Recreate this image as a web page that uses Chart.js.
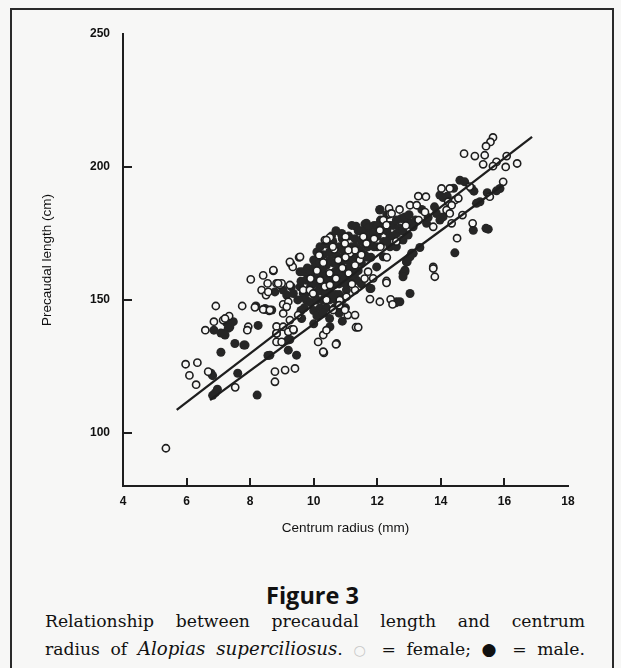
<!DOCTYPE html>
<html>
<head>
<meta charset="utf-8">
<script src="https://cdn.jsdelivr.net/npm/chart.js@4.4.1/dist/chart.umd.min.js"></script>
<style>
	html, body { margin: 0; padding: 0; background: #f7f7f6; }
	body { width: 621px; height: 668px; position: relative; overflow: hidden; }
	#frame { position: absolute; left: 10px; top: 8px; width: 600px; height: 720px; border: 2px solid #2a2a2a; }
	#chart { position: absolute; left: 0; top: 0; }
	#fig { position: absolute; left: 0; width: 625px; top: 579px; text-align: center;
		font: 700 23.5px 'Open Sans', sans-serif; color: #111; }
	.cap { position: absolute; left: 45px; width: 540px; font: 17.2px 'DejaVu Serif', serif; color: #111;
		text-align: justify; text-align-last: justify; }
	.cap i { font-size: 18.2px; }
	#cap1 { top: 611px; }
	#cap2 { top: 638px; }
	.fem { color: #c8c8c8; font-size: 14px; }
</style>
</head>
<body>
<div id="frame"></div>
<canvas id="chart" width="621" height="545"></canvas>
<div id="fig">Figure 3</div>
<div class="cap" id="cap1">Relationship between precaudal length and centrum</div>
<div class="cap" id="cap2">radius of <i>Alopias superciliosus</i>. <span class="fem">○</span> = female; ● = male.</div>
<script>
// axis ticks
const xTicks = [4, 6, 8, 10, 12, 14, 16, 18];
const yTicks = [100, 150, 200, 250];
const xTickMarks = [6, 8, 10, 12, 14, 16];
const yTickMarks = [100, 150, 200];

// regression lines (end points)
const femaleLine = [[5.69, 108.6], [16.87, 211.3]];
const maleLine = [[6.74, 112.3], [15.95, 193.2]];

// open circles = female  [radius mm, precaudal length cm]
const femalePoints = [
	[5.35,94.2],[5.97,125.8],[6.34,126.4],[6.09,121.6],[6.30,118.1],[6.59,138.6],[6.86,141.8],[6.92,147.7],
	[6.68,123.0],[7.53,117.1],[7.15,142.4],[7.34,143.9],[7.21,143.0],[7.75,147.7],[7.94,139.9],[7.91,138.6],
	[8.15,147.2],[8.60,145.9],[8.41,146.4],[8.02,157.7],[8.41,159.2],[8.73,160.9],[8.36,153.7],[8.50,151.8],
	[8.55,156.2],[8.57,153.0],[8.78,123.0],[9.10,123.6],[9.41,124.2],[8.78,119.2],[8.83,140.0],[8.83,134.2],
	[8.99,134.2],[8.83,137.4],[9.04,148.3],[9.20,149.3],[9.25,142.4],[9.51,144.3],[8.83,156.2],[8.94,155.6],
	[8.99,156.2],[9.28,163.6],[9.34,162.4],[9.25,164.3],[9.54,166.0],[8.73,161.2],[9.57,166.2],[9.30,138.9],
	[9.04,139.9],[9.20,138.0],[9.36,138.9],[9.15,147.4],[9.04,144.9],[8.62,146.2],[8.88,156.2],[9.25,155.6],
	[9.67,153.7],[9.88,153.7],[9.98,152.4],[10.35,172.5],[10.51,173.5],[10.40,172.5],[10.65,169.0],[11.00,173.7],
	[10.17,166.8],[11.14,167.5],[11.30,168.7],[11.77,150.3],[12.08,149.3],[12.29,157.1],[12.29,156.4],[12.42,150.2],
	[12.48,148.3],[11.33,139.7],[11.40,139.7],[11.30,144.3],[11.07,144.3],[10.98,146.2],[10.72,133.6],[10.70,133.3],
	[10.32,130.1],[10.30,130.5],[10.14,134.2],[10.30,136.8],[10.40,138.6],[12.37,184.4],[12.40,182.3],[12.45,182.5],
	[12.19,180.0],[12.29,178.1],[12.08,176.2],[11.56,173.7],[11.66,171.2],[10.98,171.2],[11.09,168.7],[11.71,160.6],
	[11.87,158.1],[11.45,165.0],[10.77,165.0],[10.35,155.0],[10.51,155.6],[10.20,157.4],[10.82,149.9],[11.03,151.2],
	[11.30,153.7],[10.61,146.2],[15.64,211.1],[15.56,209.4],[15.42,207.8],[14.73,205.0],[15.07,204.1],[15.38,204.4],
	[16.07,204.1],[16.40,201.3],[16.04,200.0],[15.75,201.9],[15.64,200.3],[15.33,201.0],[15.96,194.4],[14.91,192.6],
	[14.02,191.9],[14.28,191.9],[13.29,189.0],[13.53,188.8],[13.03,185.6],[13.24,185.6],[14.44,187.5],[14.55,188.2],
	[14.23,186.9],[14.34,185.6],[14.68,181.9],[14.34,178.8],[13.76,177.5],[15.00,178.8],[15.54,188.8],[14.51,173.2],
	[13.76,162.4],[14.18,183.8],[14.28,182.5],[13.76,161.8],[13.81,158.7],
	[9.9,158],[10.1,161],[10.3,164],[10.5,160],[10.7,158],[10.9,162],[11.1,160],[11.3,163],[11.5,167],[10.4,150],
	[10.8,148],[11.2,156],[11.6,158],[12.1,170],[12.3,166],[12.6,172],[11.9,173],[11.0,166],[10.6,170],[12.9,178],
	[13.3,180],[12.7,184],[13.5,183]
];

// filled circles = male
const malePoints = [
	[7.08,130.3],[6.77,122.4],[6.82,121.5],[6.82,114.1],[6.90,115.0],[6.97,116.4],[7.61,122.4],[8.22,114.2],
	[8.56,129.1],[7.52,133.6],[7.80,133.0],[7.84,133.0],[7.08,137.5],[6.86,138.6],[7.36,139.8],[7.30,143.2],
	[7.26,141.4],[7.31,139.3],[7.15,137.4],[7.21,136.8],[7.47,141.8],[8.25,140.4],[8.18,147.7],[8.47,146.4],
	[8.47,146.8],[8.68,146.2],[8.83,137.4],[9.57,160.6],[9.20,131.1],[9.46,129.2],[9.19,134.9],[9.25,135.1],
	[8.62,129.2],[8.78,153.0],[9.04,153.7],[9.30,154.9],[9.15,151.8],[9.36,152.4],[9.57,154.9],[9.67,152.4],
	[9.77,149.9],[9.80,158.0],[9.36,138.6],[9.62,143.0],[12.08,183.8],[12.08,184.0],[11.33,177.7],[11.61,178.5],
	[11.71,177.5],[11.66,178.8],[11.71,176.9],[10.88,175.0],[10.88,174.4],[10.56,174.0],[10.20,166.2],[9.67,160.6],
	[9.98,160.0],[9.77,157.4],[9.98,161.2],[10.09,157.4],[11.77,154.3],[11.80,154.3],[12.81,160.0],[12.87,161.2],
	[12.58,148.9],[12.61,149.3],[12.92,164.3],[10.51,139.9],[10.30,149.9],[10.46,152.4],[10.66,147.0],[11.03,153.7],
	[11.35,157.4],[11.98,162.4],[12.19,166.2],[12.40,170.0],[12.61,175.0],[14.60,195.0],[14.75,194.4],[14.97,191.9],
	[15.04,190.9],[15.46,190.3],[15.23,186.9],[15.12,186.3],[15.86,191.9],[15.75,191.0],[13.97,189.4],[14.07,188.5],
	[13.86,182.5],[14.07,181.2],[13.97,180.0],[13.55,178.8],[13.13,177.5],[12.92,180.0],[12.76,180.6],[15.02,176.2],
	[15.42,176.9],[15.49,176.6],[13.34,169.7],[13.13,167.5],[13.03,166.2],[12.92,164.3],[14.44,167.7],[12.81,172.5],
	[12.97,174.4],[12.87,181.2],[13.08,167.5],[12.94,164.3],[12.87,160.6],[12.81,158.7],[13.03,152.4],[12.71,149.3],
	[13.03,178.8],
	[9.6,157],[9.7,151],[9.7,147],[9.8,162],[9.9,155],[9.9,149],[10.0,165],[10.0,156],[10.0,152],[10.0,146],
	[10.0,141],[10.1,168],[10.1,163],[10.1,150],[10.1,144],[10.2,170],[10.2,160],[10.2,155],[10.2,147],[10.3,167],
	[10.3,158],[10.3,153],[10.4,171],[10.4,163],[10.4,156],[10.4,147],[10.5,168],[10.5,158],[10.5,150],[10.6,172],
	[10.6,164],[10.6,156],[10.7,167],[10.7,161],[10.7,152],[10.8,170],[10.8,163],[10.8,156],[10.9,173],[10.9,166],
	[10.9,158],[11.0,170],[11.0,161],[11.0,156],[11.1,174],[11.1,165],[11.2,170],[11.2,162],[11.3,173],[11.3,166],
	[11.4,176],[11.4,169],[11.4,161],[11.5,172],[11.5,164],[11.6,175],[11.6,167],[11.7,170],[11.8,175],[11.8,166],
	[11.9,178],[11.9,170],[12.0,174],[12.1,180],[12.2,172],[12.3,176],[12.4,174],[12.5,178],[12.6,170],[12.7,177],
	[12.3,182],[11.2,178],[10.7,176],[10.3,145],[10.5,143],[10.9,150],[11.5,156],[10.8,145],[10.9,142],[11.0,147],
	[10.7,150],
	[9.5,150],[9.6,146],[9.8,153],[9.9,160],[10.0,162],[10.1,153],[10.2,164],[10.3,162],[10.3,150],[10.4,159],
	[10.5,165],[10.5,155],[10.6,160],[10.6,152],[10.7,164],[10.7,156],[10.8,160],[10.8,152],[10.9,169],[10.9,162],
	[11.0,165],[11.0,159],[11.1,168],[11.1,162],[11.1,157],[11.2,166],[11.2,159],[11.3,170],[11.3,160],[11.4,165],
	[11.5,168],[11.5,176],[11.6,171],[11.7,174],[11.7,166],[11.8,171],[11.9,175],[12.0,170],[12.0,178],[12.1,176],
	[12.2,178],[12.3,172],[12.4,178],[12.5,174],[12.6,180],[12.8,176],[13.0,182],[13.2,180],[13.4,184],[13.6,181],
	[13.8,185],[14.2,189],[14.4,192]
];

const toXY = arr => arr.map(p => ({ x: p[0], y: p[1] }));

const INK = '#1e1e1e';
const BG = '#f7f7f6';

// inward tick marks, placed through the chart's own scales
const tickMarks = {
	id: 'tickMarks',
	afterDraw(chart) {
		const { ctx, chartArea, scales } = chart;
		ctx.save();
		ctx.strokeStyle = INK;
		ctx.lineWidth = 2;
		ctx.beginPath();
		xTickMarks.forEach(v => {
			const px = Math.round(scales.x.getPixelForValue(v));
			ctx.moveTo(px, chartArea.bottom);
			ctx.lineTo(px, chartArea.bottom - 8);
		});
		yTickMarks.forEach(v => {
			const py = Math.round(scales.y.getPixelForValue(v));
			ctx.moveTo(chartArea.left, py);
			ctx.lineTo(chartArea.left + 9, py);
		});
		ctx.stroke();
		ctx.restore();
	}
};

const tickFont = { family: "'Liberation Sans', Arial, sans-serif", size: 12, weight: 'bold' };
const titleFont = { family: "'Liberation Sans', Arial, sans-serif", size: 13.5 };

new Chart(document.getElementById('chart'), {
	type: 'scatter',
	data: {
		datasets: [
			{
				label: 'female fit', data: toXY(femaleLine), showLine: true, borderColor: INK, borderWidth: 2.3,
				pointRadius: 0, fill: false, tension: 0
			},
			{
				label: 'male fit', data: toXY(maleLine), showLine: true, borderColor: INK, borderWidth: 2.3,
				pointRadius: 0, fill: false, tension: 0
			},
			{
				label: 'female', data: toXY(femalePoints), pointRadius: 3.6, pointBorderWidth: 1.6,
				pointBorderColor: INK, pointBackgroundColor: BG
			},
			{
				label: 'male', data: toXY(malePoints), pointRadius: 4.5, pointBorderWidth: 0,
				pointBorderColor: INK, pointBackgroundColor: '#262626'
			}
		]
	},
	options: {
		responsive: false,
		animation: false,
		devicePixelRatio: 1,
		layout: { padding: { top: 34, right: 53, bottom: 1, left: 0 } },
		plugins: { legend: { display: false }, tooltip: { enabled: false } },
		scales: {
			x: {
				type: 'linear', min: 4, max: 18,
				afterBuildTicks: s => { s.ticks = xTicks.map(v => ({ value: v })); },
				afterFit: s => { s.height = 58; },
				grid: { display: false, drawTicks: false },
				border: { display: true, color: INK, width: 2 },
				ticks: { font: tickFont, color: '#111', padding: 8, maxRotation: 0, autoSkip: false },
				title: { display: true, text: 'Centrum radius (mm)', font: titleFont, color: '#111', padding: { top: 0, bottom: 8 } }
			},
			y: {
				type: 'linear', min: 80, max: 250,
				afterBuildTicks: s => { s.ticks = yTicks.map(v => ({ value: v })); },
				afterFit: s => { s.width = 123; },
				grid: { display: false, drawTicks: false },
				border: { display: true, color: INK, width: 2 },
				ticks: { font: tickFont, color: '#111', padding: 13 },
				title: { display: true, text: 'Precaudal length (cm)', font: titleFont, color: '#111', padding: { top: 39, bottom: 0 } }
			}
		}
	},
	plugins: [tickMarks]
});
</script>
</body>
</html>
